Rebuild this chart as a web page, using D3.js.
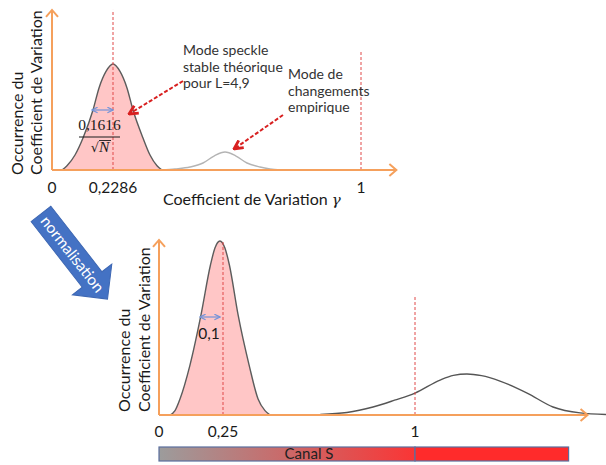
<!doctype html>
<html lang="fr">
<head>
<meta charset="utf-8">
<title>Normalisation du coefficient de variation</title>
<style>
body { margin: 0; background: #fff; }
svg { display: block; font-family: Lato, "Open Sans", sans-serif; }
.axis { stroke: #f5a05c; stroke-width: 2; fill: none; }
.mark { stroke: #e04848; stroke-width: 1; stroke-dasharray: 3,2; fill: none; }
.curve { fill: none; stroke: #5c5c5c; stroke-width: 1.4; }
.fill { fill: #ffc6c6; stroke: none; }
.tick { font-size: 15.5px; fill: #1a1a1a; text-anchor: middle; }
.title { font-size: 16px; fill: #1a1a1a; }
.note { font-size: 14px; fill: #333; }
.pointer { stroke: #d82020; stroke-width: 2; stroke-dasharray: 4,2; fill: none; }
.width { stroke: #7393d8; stroke-width: 1.2; fill: none; }
</style>
</head>
<body>
<script src="https://cdnjs.cloudflare.com/ajax/libs/d3/7.8.5/d3.min.js"></script>
<script>
// ticks
var topTickValues = [0, 0.2286, 1];
var topTickLabels = ["0", "0,2286", "1"];
var botTickValues = [0, 0.25, 1];
var botTickLabels = ["0", "0,25", "1"];

// haut : mode speckle (rose) et mode de changements (gris)
var topSpeckleCV  = [0.0375, 0.0562, 0.0862, 0.1162, 0.1537, 0.1762, 0.2024, 0.2286, 0.2504, 0.2721, 0.2908, 0.3219, 0.3437, 0.3655, 0.381];
var topSpeckleOcc = [0, 0.04, 0.1415, 0.302, 0.566, 0.774, 0.93, 1, 0.93, 0.774, 0.566, 0.302, 0.1415, 0.04, 0];
var topChangeCV  = [0.38, 0.4214, 0.468, 0.5085, 0.5428, 0.577, 0.6112, 0.6454, 0.6858, 0.7169, 0.75];
var topChangeOcc = [0, 0.01, 0.028, 0.066, 0.132, 0.17, 0.132, 0.066, 0.028, 0.01, 0];

// bas : apres normalisation
var botSpeckleCV  = [0.043, 0.0625, 0.082, 0.121, 0.164, 0.201, 0.2185, 0.238, 0.2575, 0.275, 0.309, 0.352, 0.387, 0.414, 0.434];
var botSpeckleOcc = [0, 0.025, 0.092, 0.287, 0.575, 0.862, 0.96, 1, 0.96, 0.862, 0.575, 0.287, 0.092, 0.025, 0];
var botChangeCV  = [0.63, 0.734, 0.836, 0.92, 1.0, 1.098, 1.15, 1.203, 1.26, 1.332, 1.438, 1.539, 1.645, 1.746];
var botChangeOcc = [0.003, 0.014, 0.046, 0.085, 0.126, 0.201, 0.228, 0.236, 0.226, 0.195, 0.126, 0.046, 0.012, 0.003];

// traits pointilles verticaux (valeur, hauteur)
var topMarkCV  = [0.2286, 1];
var topMarkTop = [1.51, 1.13];
var botMarkCV  = [0.25, 1];
var botMarkTop = [1.0, 0.69];

var canalStops = [0, 1, 1.6];

var svg = d3.select("body").append("svg")
	.attr("width", 606)
	.attr("height", 465);

var defs = svg.append("defs");
function chevron(id, color, size, sw) {
	defs.append("marker")
		.attr("id", id)
		.attr("markerUnits", "userSpaceOnUse")
		.attr("viewBox", "0 0 10 10")
		.attr("refX", 9).attr("refY", 5)
		.attr("markerWidth", size).attr("markerHeight", size)
		.attr("orient", "auto-start-reverse")
		.append("path")
		.attr("d", "M1,1 L9,5 L1,9")
		.attr("fill", "none")
		.attr("stroke", color)
		.attr("stroke-width", sw);
}
chevron("redhead", "#d82020", 11, 2.6);
chevron("bluehead", "#7393d8", 7, 1.8);

var grad = defs.append("linearGradient").attr("id", "canal");
grad.append("stop").attr("offset", "0%").attr("stop-color", "#9c9c9c");
grad.append("stop").attr("offset", "100%").attr("stop-color", "#fa3535");

// scales
var xTop = d3.scaleLinear().domain([0, 0.2286, 1]).range([52, 113, 361]);
var yTop = d3.scaleLinear().domain([0, 1]).range([170, 64]);
var xBot = d3.scaleLinear().domain([0, 1]).range([159, 415]);
var yBot = d3.scaleLinear().domain([0, 1]).range([415, 241]);

function zipPts(xs, ys) {
	return xs.map(function(v, i) { return [v, ys[i]]; });
}

function drawPanel(g, x, y, speckle, change, changeColor, marksCV, marksTop, xMax, yMax) {
	var area = d3.area()
		.x(function(d) { return x(d[0]); })
		.y0(y(0))
		.y1(function(d) { return y(d[1]); })
		.curve(d3.curveMonotoneX);
	var line = d3.line()
		.x(function(d) { return x(d[0]); })
		.y(function(d) { return y(d[1]); })
		.curve(d3.curveMonotoneX);

	g.append("path").datum(speckle).attr("class", "fill").attr("d", area);
	g.append("path").datum(speckle).attr("class", "curve").attr("d", line);
	g.append("path").datum(change).attr("class", "curve")
		.style("stroke", changeColor)
		.attr("d", line);

	g.selectAll("line.mark")
		.data(marksCV)
		.enter().append("line")
		.attr("class", "mark")
		.attr("x1", function(d) { return x(d); })
		.attr("x2", function(d) { return x(d); })
		.attr("y1", y(0))
		.attr("y2", function(d, i) { return y(marksTop[i]); });

	// axes orange avec fleches
	var x0 = x(0), y0 = y(0), xe = x(xMax), ye = y(yMax);
	g.append("path").attr("class", "axis")
		.attr("d", "M" + x0 + "," + y0 + "H" + xe + "M" + x0 + "," + y0 + "V" + ye);
	g.append("path").attr("class", "axis").attr("stroke-width", 1.6)
		.attr("d", "M" + (xe - 7) + "," + (y0 - 6) + "L" + xe + "," + y0 + "L" + (xe - 7) + "," + (y0 + 6));
	g.append("path").attr("class", "axis").attr("stroke-width", 1.6)
		.attr("d", "M" + (x0 - 6) + "," + (ye + 7) + "L" + x0 + "," + ye + "L" + (x0 + 6) + "," + (ye + 7));
}

var gTop = svg.append("g");
drawPanel(gTop, xTop, yTop,
	zipPts(topSpeckleCV, topSpeckleOcc),
	zipPts(topChangeCV, topChangeOcc),
	"#b4b4b4", topMarkCV, topMarkTop, 1.11, 1.51);

var gBot = svg.append("g");
drawPanel(gBot, xBot, yBot,
	zipPts(botSpeckleCV, botSpeckleOcc),
	zipPts(botChangeCV, botChangeOcc),
	"#555", botMarkCV, botMarkTop, 1.674, 1.006);

// tick labels
gTop.selectAll("text.tick")
	.data(topTickValues)
	.enter().append("text")
	.attr("class", "tick")
	.attr("x", function(d) { return xTop(d); })
	.attr("y", 193)
	.text(function(d, i) { return topTickLabels[i]; });
gBot.selectAll("text.tick")
	.data(botTickValues)
	.enter().append("text")
	.attr("class", "tick")
	.attr("x", function(d) { return xBot(d); })
	.attr("y", 437)
	.text(function(d, i) { return botTickLabels[i]; });

// titres d'axes
function yTitle(x1, x2, y) {
	svg.append("text").attr("class", "title")
		.attr("transform", "translate(" + x1 + "," + y + ") rotate(-90)")
		.text("Occurrence du");
	svg.append("text").attr("class", "title")
		.attr("transform", "translate(" + x2 + "," + y + ") rotate(-90)")
		.text("Coefficient de Variation");
}
yTitle(23, 42, 175);
yTitle(130, 150, 412);

var xt = svg.append("text").attr("class", "title").attr("x", 163).attr("y", 205);
xt.append("tspan").text("Coefficient de Variation ");
xt.append("tspan").attr("font-family", "'DejaVu Serif', serif").attr("font-style", "italic")
	.attr("font-size", 15).text("γ");

// annotations
function noteLines(x, y, lines) {
	var t = svg.append("text").attr("class", "note");
	lines.forEach(function(s, i) {
		t.append("tspan").attr("x", x).attr("y", y + i * 16.5).text(s);
	});
}
noteLines(183, 55, ["Mode speckle", "stable théorique", "pour L=4,9"]);
noteLines(288, 79, ["Mode de", "changements", "empirique"]);

svg.append("line").attr("class", "pointer")
	.attr("x1", 183).attr("y1", 81).attr("x2", 129).attr("y2", 114)
	.attr("marker-end", "url(#redhead)");
svg.append("line").attr("class", "pointer")
	.attr("x1", 283).attr("y1", 115).attr("x2", 234).attr("y2", 149)
	.attr("marker-end", "url(#redhead)");

// largeurs
svg.append("line").attr("class", "width")
	.attr("x1", 92).attr("y1", 110).attr("x2", xTop(0.2286)).attr("y2", 110)
	.attr("marker-start", "url(#bluehead)").attr("marker-end", "url(#bluehead)");
svg.append("line").attr("class", "width")
	.attr("x1", 200).attr("y1", 317).attr("x2", 220).attr("y2", 317)
	.attr("marker-start", "url(#bluehead)").attr("marker-end", "url(#bluehead)");

var frac = svg.append("g").attr("font-family", "'Liberation Serif', serif").attr("fill", "#1a1a1a");
frac.append("text").attr("x", 99.5).attr("y", 130).attr("text-anchor", "middle")
	.attr("font-size", 15.5).text("0,1616");
frac.append("line").attr("x1", 79).attr("x2", 120).attr("y1", 137).attr("y2", 137)
	.attr("stroke", "#1a1a1a").attr("stroke-width", 1);
var sq = frac.append("text").attr("x", 100).attr("y", 152).attr("text-anchor", "middle").attr("font-size", 15.5);
sq.append("tspan").attr("font-family", "'DejaVu Serif', serif").attr("font-size", 13).text("√");
sq.append("tspan").attr("font-style", "italic").text("N");
frac.append("line").attr("x1", 99).attr("x2", 111).attr("y1", 140.5).attr("y2", 140.5)
	.attr("stroke", "#1a1a1a").attr("stroke-width", 0.9);

svg.append("text").attr("class", "tick").attr("x", 209).attr("y", 339).text("0,1");

// fleche normalisation
var na = svg.append("g").attr("transform", "translate(41,214) rotate(52)");
na.append("path")
	.attr("d", "M0,-12.5 L83,-12.5 L83,-25 L108,0 L83,25 L83,12.5 L0,12.5 Z")
	.attr("fill", "#4472c4")
	.attr("stroke", "#3d67b3")
	.attr("stroke-width", 1);
na.append("text")
	.attr("x", 51).attr("y", 0)
	.attr("dy", "0.35em")
	.attr("text-anchor", "middle")
	.attr("fill", "#fff")
	.attr("font-size", 15.5)
	.text("normalisation");

// barre Canal S
var bands = d3.pairs(canalStops);
svg.selectAll("rect.canal")
	.data(bands)
	.enter().append("rect")
	.attr("class", "canal")
	.attr("x", function(d) { return xBot(d[0]); })
	.attr("width", function(d) { return xBot(d[1]) - xBot(d[0]); })
	.attr("y", 447)
	.attr("height", 14)
	.attr("fill", function(d, i) { return i === 0 ? "url(#canal)" : "#ff2b2b"; })
	.attr("stroke", "#5b6f9e")
	.attr("stroke-width", 1.2);
svg.append("text")
	.attr("x", 309).attr("y", 458.5)
	.attr("text-anchor", "middle")
	.attr("font-size", 15)
	.attr("fill", "#222")
	.text("Canal S");
</script>
</body>
</html>
